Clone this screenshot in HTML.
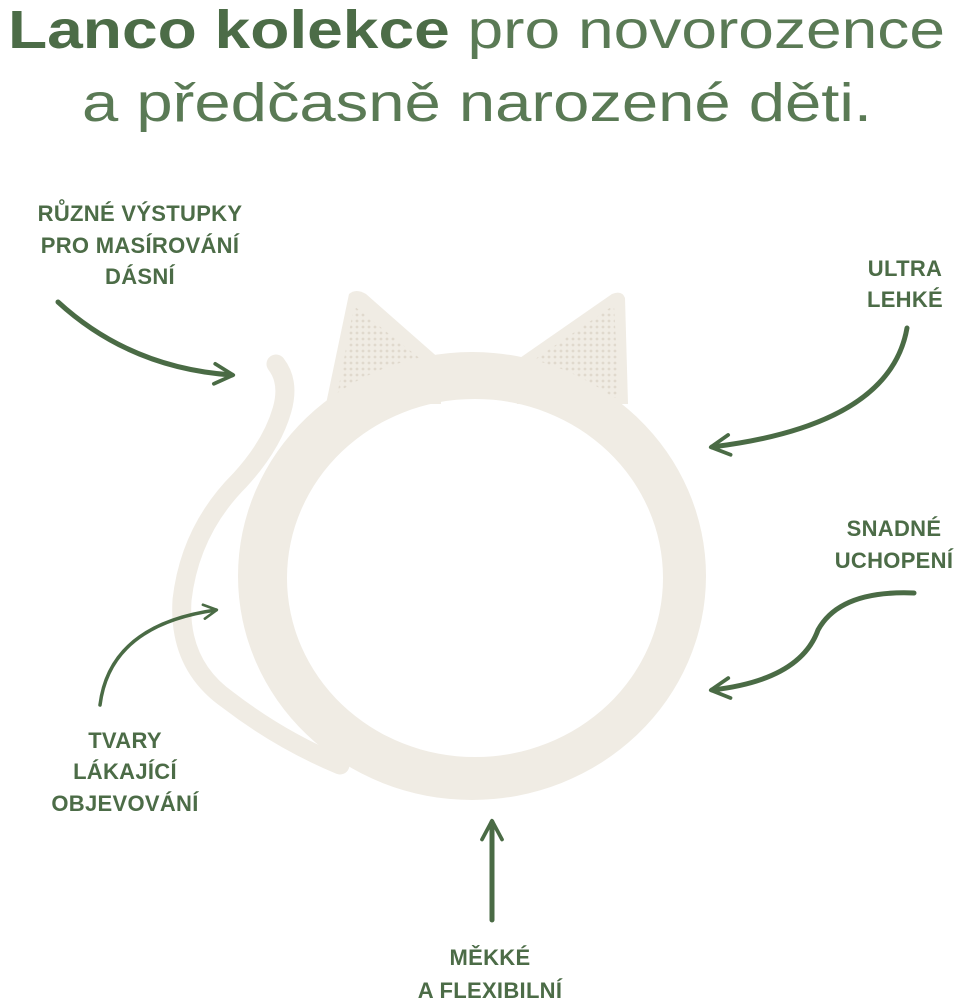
<!DOCTYPE html>
<html><head><meta charset="utf-8"><style>
html,body{margin:0;padding:0;background:#fff;}
svg{display:block;}
text{font-family:"Liberation Sans",sans-serif;fill:#4c6c47;}
.lb{font-size:22px;font-weight:bold;text-anchor:middle;letter-spacing:0.3px;}
</style></head><body>
<svg width="969" height="1000" viewBox="0 0 969 1000" xmlns="http://www.w3.org/2000/svg">
<defs>
<marker id="ah" viewBox="0 0 10 10" refX="8" refY="5" markerWidth="5" markerHeight="5" orient="auto-start-reverse" markerUnits="strokeWidth">
<path d="M1,1 L8.5,5 L1,9" fill="none" stroke="#4a6b45" stroke-width="1.5" stroke-linecap="round" stroke-linejoin="round"/>
</marker>
<pattern id="dots" width="6" height="6" patternUnits="userSpaceOnUse">
<rect width="6" height="6" fill="#f0ece4"/>
<circle cx="3" cy="3" r="1.4" fill="#e0d9cd"/>
</pattern>
</defs>

<!-- Title -->
<text x="8" y="48" font-size="54" textLength="937" lengthAdjust="spacingAndGlyphs"><tspan font-weight="bold">Lanco kolekce</tspan><tspan font-weight="normal" style="fill:#5a7a55"> pro novorozence</tspan></text>
<text x="82" y="121" font-size="54" textLength="790" lengthAdjust="spacingAndGlyphs" style="fill:#5a7a55">a předčasně narozené děti.</text>

<!-- Ears -->
<path d="M326,404 L349,294 Q356,288 366,294 L441,360 L441,404 Z" fill="#f0ece4"/>
<path d="M337,396 L354,306 L432,368 L432,398 Z" fill="url(#dots)"/>
<path d="M517,360 L612,294 Q622,290 625,298 L628,404 L517,404 Z" fill="#f0ece4"/>
<path d="M528,364 L614,305 L619,398 L528,398 Z" fill="url(#dots)"/>

<!-- Tail -->
<path d="M276,364 Q290,382 282,410 Q272,445 240,480 Q190,530 182,600 Q178,665 228,700 Q280,740 340,765" fill="none" stroke="#f0ece4" stroke-width="19" stroke-linecap="round"/>

<!-- Ring -->
<path fill-rule="evenodd" fill="#f0ece4" d="M238,576 A234,224 0 1,1 706,576 A234,224 0 1,1 238,576 Z M287,578 A188,179 0 1,0 663,578 A188,179 0 1,0 287,578 Z"/>

<!-- Arrows -->
<g fill="none" stroke="#4a6b45" stroke-width="5" stroke-linecap="round">
<path d="M58,302 Q130,368 232,375" marker-end="url(#ah)"/>
<path d="M907,328 Q890,425 712,447" marker-end="url(#ah)"/>
<path d="M914,593 Q840,590 818,630 Q800,680 712,690" marker-end="url(#ah)"/>
<path d="M100,705 Q110,625 216,610" marker-end="url(#ah)" stroke-width="3.5"/>
<path d="M492,920 L492,822" marker-end="url(#ah)"/>
</g>

<!-- Labels -->
<text class="lb" x="140" y="221">RŮZNÉ VÝSTUPKY</text>
<text class="lb" x="140" y="253">PRO MASÍROVÁNÍ</text>
<text class="lb" x="140" y="284">DÁSNÍ</text>
<text class="lb" x="905" y="276">ULTRA</text>
<text class="lb" x="905" y="307">LEHKÉ</text>
<text class="lb" x="894" y="536">SNADNÉ</text>
<text class="lb" x="894" y="568">UCHOPENÍ</text>
<text class="lb" x="125" y="748">TVARY</text>
<text class="lb" x="125" y="779">LÁKAJÍCÍ</text>
<text class="lb" x="125" y="811">OBJEVOVÁNÍ</text>
<text class="lb" x="490" y="965">MĚKKÉ</text>
<text class="lb" x="490" y="998">A FLEXIBILNÍ</text>
</svg>
</body></html>
